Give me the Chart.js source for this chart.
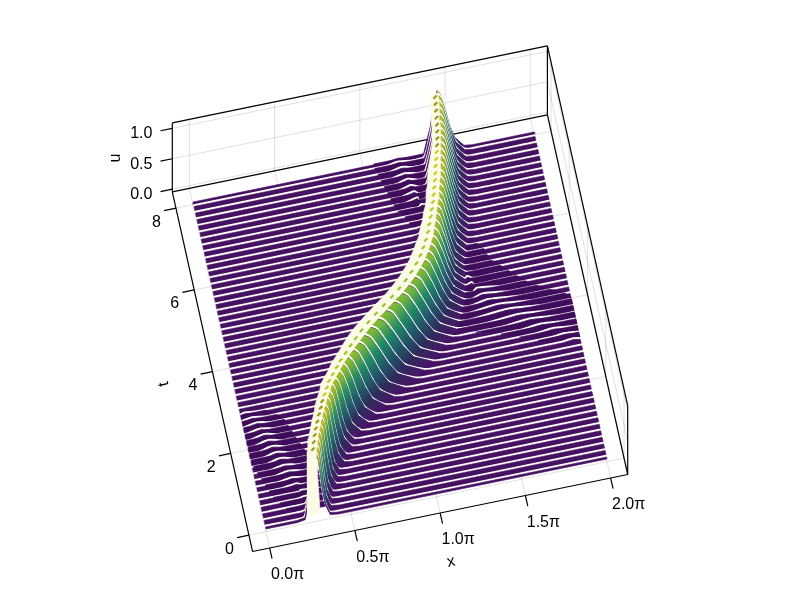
<!DOCTYPE html>
<html><head><meta charset="utf-8">
<style>html,body{margin:0;padding:0;background:#fff;overflow:hidden}canvas{display:block}</style>
<script src="https://cdn.jsdelivr.net/npm/chart.js@4/dist/chart.umd.min.js"></script>
</head><body><canvas id="c" width="800" height="600"></canvas>
<script>
// ---- axis labels and limits (x is stored as a fraction of 2pi) ----
const xTickValues=[0,0.25,0.5,0.75,1];
const xTickLabels=["0.0π","0.5π","1.0π","1.5π","2.0π"];
const tTickValues=[0,2,4,6,8];
const tTickLabels=["0","2","4","6","8"];
const uTickValues=[0,0.5,1];
const uTickLabels=["0.0","0.5","1.0"];
const xLimits=[-0.05,1.05], tLimits=[-0.4,8.4], uLimits=[-0.044,1.09];
// ---- times of the drawn rows ----
const tRows=[0.08,0.24,0.40,0.56,0.72,0.88,1.04,1.20,1.36,1.52,1.68,1.84,2.00,2.16,2.32,2.48,2.64,2.80,2.96,3.12,3.28,3.44,3.60,3.76,3.92,4.08,4.24,4.40,4.56,4.72,4.88,5.04,5.20,5.36,5.52,5.68,5.84,6.00,6.16,6.32,6.48,6.64,6.80,6.96,7.12,7.28,7.44,7.60,7.76,7.92];
// ---- position of the main crest in each row (fraction of 2pi) ----
const crestX=[.149,.156,.162,.170,.178,.187,.196,.206,.216,.227,.238,.252,.268,.284,.302,.322,.342,.363,.386,.412,.439,.467,.495,.519,.541,.561,.579,.593,.605,.616,.624,.632,.639,.646,.653,.659,.665,.671,.676,.681,.686,.690,.694,.698,.702,.705,.708,.711,.714,.716];
// ---- knots around the crest: x offset (thousandths of 2pi) per row ----
const crestDx=[
[-34,-17,-7,0,5,11,18,26,40],[-34,-17,-7,0,5,11,18,26,40],[-34,-17,-7,0,5,11,18,26,40],[-34,-17,-7,0,5,11,18,26,40],
[-34,-17,-7,0,6,13,21,30,46],[-34,-17,-7,0,6,13,21,30,46],[-34,-17,-7,0,6,13,21,30,46],
[-40,-20,-8,0,7,15,25,36,55],[-40,-20,-8,0,7,15,25,36,55],
[-40,-20,-8,0,8,18,29,42,65],[-40,-20,-8,0,8,18,29,42,65],
[-40,-20,-8,0,9,21,34,49,75],[-45,-23,-9,0,10,24,38,55,85],[-50,-25,-10,0,11,27,43,62,95],[-65,-33,-13,0,13,31,50,72,110],
[-80,-40,-16,0,14,34,54,78,120],[-80,-40,-16,0,16,38,61,88,135],[-80,-40,-16,0,18,42,68,98,150],[-80,-40,-16,0,19,43,70,101,155],
[-80,-40,-16,0,19,45,72,104,160],[-80,-40,-16,0,19,43,70,101,155],[-80,-40,-16,0,18,42,68,98,150],[-80,-40,-16,0,17,41,65,94,145],
[-80,-40,-16,0,17,39,63,91,140],[-80,-40,-16,0,16,36,59,85,130],[-80,-40,-16,0,14,34,54,78,120],[-80,-40,-16,0,13,31,50,72,110],
[-80,-40,-16,0,13,29,47,68,105],[-80,-40,-16,0,12,28,45,65,100],[-75,-38,-15,0,11,27,43,62,95],[-70,-35,-14,0,11,25,41,59,90],
[-65,-33,-13,0,11,25,40,57,88],[-60,-30,-12,0,10,22,36,52,80],[-60,-30,-12,0,10,22,36,52,80],[-60,-30,-12,0,10,22,36,52,80],[-60,-30,-12,0,10,22,36,52,80],
[-60,-30,-12,0,10,22,36,52,80],[-60,-30,-12,0,10,22,36,52,80],[-60,-30,-12,0,10,22,36,52,80],[-55,-28,-11,0,10,22,36,52,80],[-50,-25,-10,0,10,22,36,52,80],
[-45,-23,-9,0,10,22,36,52,80],[-40,-20,-8,0,10,22,36,52,80],[-40,-20,-8,0,10,22,36,52,80],[-40,-20,-8,0,10,22,36,52,80],[-40,-20,-8,0,10,22,36,52,80],
[-40,-20,-8,0,9,22,35,51,78],[-40,-20,-8,0,9,22,35,51,78],[-40,-20,-8,0,9,22,35,51,78],[-40,-20,-8,0,9,22,35,51,78]];
// ---- u at those knots (hundredths) per row ----
const crestU=[
[2,46,88,103,96,72,43,19,2],[2,46,88,103,96,72,43,19,2],[2,46,88,103,96,72,43,19,2],[2,46,88,103,96,72,43,19,2],
[2,46,87,102,95,71,43,18,2],[2,46,87,102,95,71,43,18,2],[2,46,87,102,95,71,43,18,2],
[2,45,85,100,93,70,42,18,2],[2,45,85,100,93,70,42,18,2],
[2,44,83,98,91,69,41,18,2],[2,44,83,98,91,69,41,18,2],
[2,43,82,96,89,67,40,17,2],[2,43,81,95,88,67,40,17,2],[2,42,80,94,87,66,39,17,2],
[2,42,79,93,86,65,39,17,2],[2,41,78,92,86,64,39,17,2],[2,41,77,91,85,64,38,16,2],
[2,41,77,90,84,63,38,16,2],[2,41,77,90,84,63,38,16,2],
[2,41,77,90,84,63,38,16,2],[2,41,77,90,84,63,38,16,2],[2,41,77,90,84,63,38,16,2],[2,41,77,90,84,63,38,16,2],
[2,41,77,90,84,63,38,16,2],[2,41,77,90,84,63,38,16,2],[2,41,77,91,85,64,38,16,2],
[2,41,78,92,86,64,39,17,2],[2,42,79,93,86,65,39,17,2],[2,42,79,93,86,65,39,17,2],[2,42,80,94,87,66,39,17,2],
[2,43,81,95,88,67,40,17,2],[2,43,82,96,89,67,40,17,2],[2,44,82,97,90,68,41,17,2],[2,44,82,97,90,68,41,17,2],
[2,44,83,98,91,69,41,18,2],[2,44,83,98,91,69,41,18,2],
[2,45,84,99,92,69,42,18,2],[2,45,84,99,92,69,42,18,2],[2,45,84,99,92,69,42,18,2],
[2,45,85,100,93,70,42,18,2],[2,45,85,100,93,70,42,18,2],[2,45,85,100,93,70,42,18,2],
[2,45,85,100,93,70,42,18,2],[2,45,85,100,93,70,42,18,2],[2,45,85,100,93,70,42,18,2],[2,45,85,100,93,70,42,18,2],
[2,45,86,101,94,71,42,18,2],[2,45,86,101,94,71,42,18,2],[2,45,86,101,94,71,42,18,2],[2,45,86,101,94,71,42,18,2]];
// ---- small travelling ripple: centre, half width, height per row ----
const rippleX=[.13,.135,.13,.125,.12,.112,.105,.098,.09,.083,.076,.068,.06,.053,.046,.039,.03,.012,.98,.96,.93,.90,.87,.84,.81,.785,.765,.75,.74,.73,.72,.71,.70,.69,.695,.69,.68,.67,.66,.655,.652,.645,.638,.63,.625,.62,.615,.61,.605,.60];
const rippleW=[.02,.025,.03,.035,.04,.04,.04,.04,.04,.04,.04,.04,.04,.04,.04,.04,.035,.03,.03,.04,.05,.06,.08,.09,.10,.10,.09,.08,.07,.065,.06,.055,.05,.05,.045,.04,.03,.03,.03,.025,.03,.03,.035,.035,.035,.035,.035,.035,.035,.035];
const rippleU=[0,.01,.01,.02,.02,.03,.03,.04,.04,.05,.05,.05,.05,.05,.04,.04,.03,.02,.02,.02,.03,.03,.04,.04,.05,.05,.05,.05,.05,.05,.05,.05,.05,.05,.04,.03,0,0,0,.02,.03,.04,.04,.05,.05,.05,.05,.04,.04,.03];
// ---- width in px of the pale band left of the crest, where row lines pile up ----
const bandWidth=[9,9,9,9,9,9,9,10,10,10,11,11,11,12,12,13,14,15,15,15,15,15,15,15,15,15,15,15,15,14,14,13,13,12,12,12,12,12,12,11,10,9,8,8,8,8,8,8,8,8];
// ---- colour map stops ----
const viridis=["#440154","#482475","#414487","#355f8d","#2a788e","#21918c","#22a884","#44bf70","#7ad151","#bddf26","#fde725"];
const uColorRange=[-0.05,1.05];
const flankShade=[.85,.85,.8,.75,.68,1];
const creamColor="#fbfbe6", darkColor="#3f0c5c";

// ---- view of the 3D box ----
function project(xf,t,u){return {x:266+341*xf-73*t/8,y:529-70*xf-327*t/8-60.8*u};}
function hex(c){return [1,3,5].map(i=>parseInt(c.substr(i,2),16));}
function colorOf(u,shade){
  let v=(u-uColorRange[0])/(uColorRange[1]-uColorRange[0]);v=Math.max(0,Math.min(1,v))*(viridis.length-1);
  const i=Math.min(viridis.length-2,Math.floor(v)),a=hex(viridis[i]),b=hex(viridis[i+1]),k=v-i;
  return "rgb("+a.map((p,j)=>Math.round((p+(b[j]-p)*k)*shade)).join(",")+")";
}
function crestKnots(i){return crestDx[i].map((d,k)=>[crestX[i]+d/1000,crestU[i][k]/100]);}
function rowKnots(i){
  const c=crestKnots(i),lo=c[0][0]-.004,hi=c[8][0]+.004;
  let r=[[lo-.02,0],[hi+.02,0]];
  if(rippleU[i]>0){const f=rippleX[i],w=rippleW[i];r=r.concat([[f-w-.02,0],[f-w,0],[f,rippleU[i]],[f+w,0],[f+w+.02,0]]);}
  r=r.filter(p=>p[0]>0&&p[0]<1&&(p[0]<lo||p[0]>hi)).sort((a,b)=>a[0]-b[0]);
  return [[0,0]].concat(r.filter(p=>p[0]<lo),c,r.filter(p=>p[0]>hi),[[1,0]]);
}
const ctx=document.getElementById('c').getContext('2d');
const dsets=[];
function poly(pts,color){dsets.push({data:pts.concat([pts[0]]),showLine:true,fill:'shape',backgroundColor:color,borderColor:color,borderWidth:.6,pointRadius:0,tension:0});}
function seg(a,b,color,w){dsets.push({data:[a,b],showLine:true,fill:false,borderColor:color,borderWidth:w,pointRadius:0,tension:0});}

// box, grids and ticks
const [x0,x1]=xLimits,[t0,t1]=tLimits,[u0,u1]=uLimits,grid="rgba(0,0,0,0.12)";
xTickValues.forEach(v=>{seg(project(v,t0,u0),project(v,t1,u0),grid,1);seg(project(v,t1,u0),project(v,t1,u1),grid,1);});
tTickValues.forEach(v=>{seg(project(x0,v,u0),project(x1,v,u0),grid,1);seg(project(x1,v,u0),project(x1,v,u1),grid,1);});
uTickValues.forEach(v=>{seg(project(x0,t1,v),project(x1,t1,v),grid,1);seg(project(x1,t1,v),project(x1,t0,v),grid,1);});
[[x0,t0,u0,x1,t0,u0],[x0,t0,u0,x0,t1,u0],[x0,t1,u0,x1,t1,u0],[x1,t0,u0,x1,t1,u0],[x0,t1,u1,x1,t1,u1],[x1,t0,u1,x1,t1,u1],[x0,t1,u0,x0,t1,u1],[x1,t1,u0,x1,t1,u1],[x1,t0,u0,x1,t0,u1]].forEach(s=>seg(project(s[0],s[1],s[2]),project(s[3],s[4],s[5]),"#000",1.2));
const off=(p,dx,dy)=>({x:p.x+dx,y:p.y+dy});
xTickValues.forEach(v=>{const p=project(v,t0,u0);seg(p,off(p,2.4,10.7),"#000",1.2);});
tTickValues.forEach(v=>{const p=project(x0,v,u0);seg(p,off(p,-11.8,2.4),"#000",1.2);});
uTickValues.forEach(v=>{const p=project(x0,t1,v);seg(p,off(p,-11.8,2.4),"#000",1.2);});

// surface, painted from the far row to the near row
const N=tRows.length, base=colorOf(0,1), inset=0.03;
function strip(iBack,tBack,iFront,tFront){
  const back=rowKnots(iBack).map(p=>project(p[0],tBack,p[1]));
  const front=rowKnots(iFront).map(p=>project(p[0],tFront,p[1]));
  poly(back.concat(front.reverse()),base);
  if(rippleU[iBack]>0&&rippleU[iFront]>0&&Math.abs(rippleX[iBack]-rippleX[iFront])<.2){
    const cl=v=>Math.max(0,Math.min(1,v));
    const wb=rippleW[iBack]*2,wf=rippleW[iFront]*2;
    poly([project(cl(rippleX[iBack]-wb),tBack,rippleU[iBack]/2),project(cl(rippleX[iBack]+wb),tBack,rippleU[iBack]/2),project(cl(rippleX[iFront]+wf),tFront,rippleU[iFront]/2),project(cl(rippleX[iFront]-wf),tFront,rippleU[iFront]/2)],darkColor);
  }
  // right flank: one shape with a colour gradient running from crest to foot
  const a=crestKnots(iBack).slice(3),b=crestKnots(iFront).slice(3);
  const pa=a.map(p=>project(p[0],tBack,p[1])),pb=b.map(p=>project(p[0],tFront,p[1]));
  const mid=pa.map((p,k)=>({x:(p.x+pb[k].x)/2,y:(p.y+pb[k].y)/2}));
  const s=mid[0],e=mid[mid.length-1],dx=e.x-s.x,dy=e.y-s.y,L=dx*dx+dy*dy||1;
  const g=ctx.createLinearGradient(s.x,s.y,e.x,e.y);
  mid.forEach((m,k)=>{const o=Math.max(0,Math.min(1,((m.x-s.x)*dx+(m.y-s.y)*dy)/L));g.addColorStop(o,colorOf((a[k][1]+b[k][1])/2,flankShade[k]));});
  poly(pa.concat(pb.slice().reverse()),g);
}
strip(N-1,8,N-1,tRows[N-1]);
for(let i=N-1;i>=0;i--){
  const pts=rowKnots(i).map(p=>project(p[0],tRows[i],p[1]));
  dsets.push({data:pts,showLine:true,fill:false,borderColor:"#fffffa",borderWidth:2,pointRadius:0,tension:.3,borderCapStyle:'round'});
  if(i>0)strip(i,tRows[i]-inset,i-1,tRows[i-1]); else strip(0,tRows[0]-inset,0,0);
}
// pale band along the left side of the crest, with the crest colour peeking through
const crestPts=tRows.map((t,i)=>project(crestX[i],t,crestU[i][3]/100));
poly(crestPts.concat(crestPts.map((p,i)=>({x:p.x-bandWidth[i],y:p.y})).reverse()),creamColor);
// the nearest spike, down to its foot on the floor
poly([crestPts[0],{x:crestPts[0].x-bandWidth[0],y:crestPts[0].y},project(crestX[0]-.025,tRows[0],.03),project(crestX[0]+.012,tRows[0],.03)],creamColor);
for(let i=0;i<N-1;i++){
  const m={x:(crestPts[i].x+crestPts[i+1].x)/2-bandWidth[i]*.4,y:(crestPts[i].y+crestPts[i+1].y)/2};
  const mk=crestU[i][3]/100, sh=(i>7&&i<41)?.9:.66;
  seg(off(m,-1.6,1.6),off(m,1.6,-1.6),colorOf(mk,sh),2.2);
}

// text
const texts=[];
const F='16px "Liberation Sans", Arial, sans-serif';
xTickValues.forEach((v,i)=>{const p=project(v,t0,u0);texts.push([xTickLabels[i],p.x+18,p.y+27,0]);});
tTickValues.forEach((v,i)=>{const p=project(x0,v,u0);texts.push([tTickLabels[i],p.x-19.5,p.y+14,0]);});
uTickValues.forEach((v,i)=>{const p=project(x0,t1,v);texts.push([uTickLabels[i],p.x-31,p.y+5.5,0]);});
texts.push(["x",451,562,-0.2]);texts.push(["t",164,384,-1.79]);texts.push(["u",116,158,-Math.PI/2]);
const textPlugin={id:'texts',afterDraw(ch){const c=ch.ctx;c.save();c.fillStyle="#000";c.font=F;c.textAlign="center";c.textBaseline="middle";
  texts.forEach(s=>{c.save();c.translate(s[1],s[2]);c.rotate(s[3]);c.fillText(s[0],0,0);c.restore();});c.restore();}};

new Chart(ctx,{type:'scatter',
  data:{datasets:dsets.reverse()},
  plugins:[textPlugin],
  options:{responsive:false,animation:false,parsing:false,normalized:true,events:[],
    layout:{padding:0},
    plugins:{legend:{display:false},tooltip:{enabled:false},title:{display:false}},
    scales:{x:{type:'linear',min:0,max:800,display:false},y:{type:'linear',min:0,max:600,reverse:true,display:false}}}});
</script></body></html>
